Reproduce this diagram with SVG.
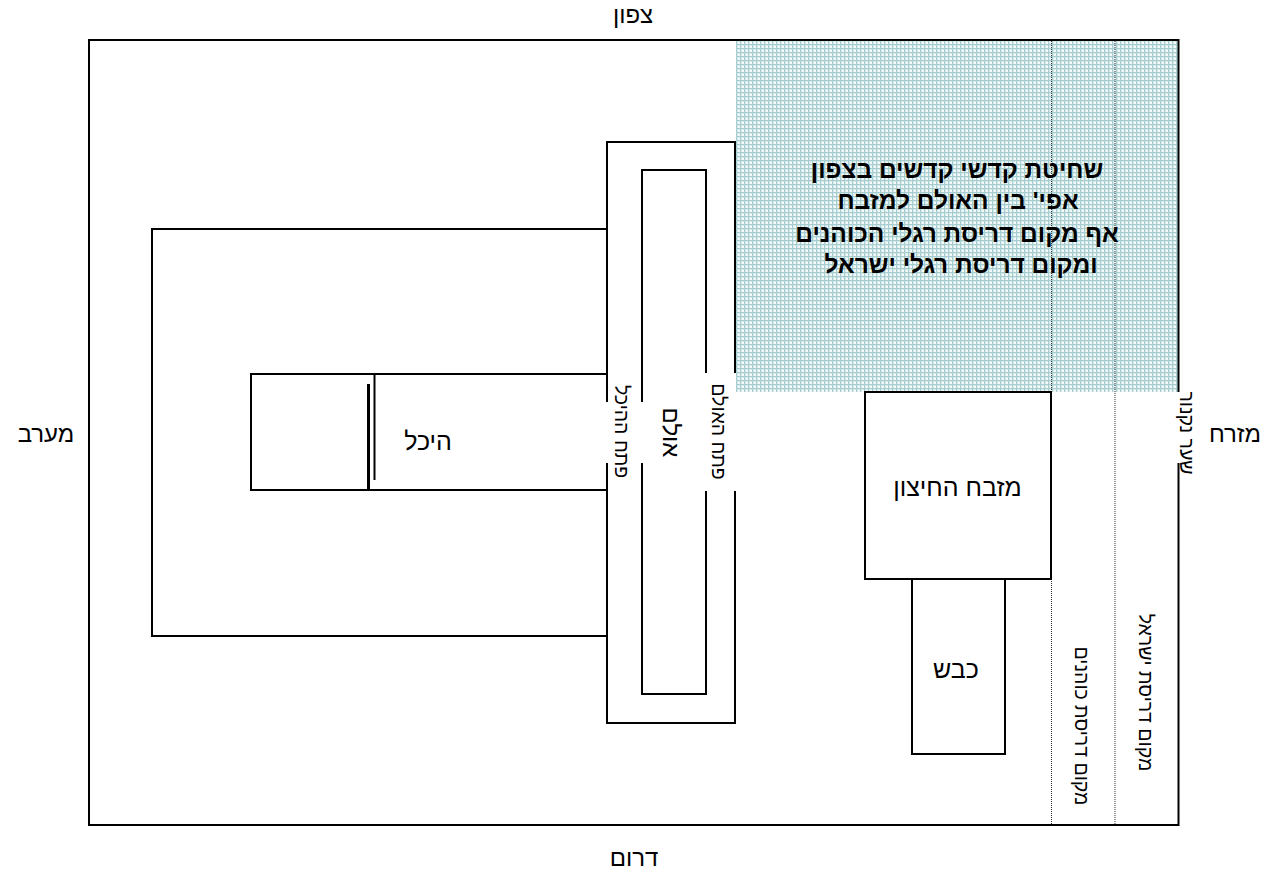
<svg xmlns="http://www.w3.org/2000/svg" width="1264" height="873" viewBox="0 0 1264 873">
<style>
text{font-family:"Liberation Sans",sans-serif;fill:#000;text-anchor:middle;direction:rtl}
.t{font-size:25px}.g{font-size:24px}.u{font-size:24px}.s{font-size:19.500px}.b{font-size:24.500px;font-weight:bold}
.l{fill:none;stroke:#000;stroke-width:2}
.d{fill:none;stroke:#333;stroke-width:1;stroke-dasharray:1 1}
</style>
<defs><pattern id="p" width="4" height="4" patternUnits="userSpaceOnUse"><rect width="4" height="4" fill="#d8eaea"/><path d="M0 .5H4M.5 0V4" stroke="#a6ced0" stroke-width="1" fill="none"/><rect x="2" y="2" width="2" height="2" fill="#f4f9f9"/></pattern></defs>
<rect width="1264" height="873" fill="#fff"/>
<g id="shaded"><rect x="736" y="41" width="443" height="351" fill="url(#p)"/></g>
<g id="connectors">
<path class="d" d="M1051.500 41V825M1115 41V825"/>
</g>
<g id="court"><path class="l" d="M1178.500 392V40H89V825H1178.500V463"/></g>
<g id="azara"><path class="l" d="M607 229H152V636H607"/></g>
<g id="heikhal"><path class="l" d="M607 374H251V490H607"/><path d="M374.500 373V480" stroke="#000" stroke-width="2"/><path d="M368.500 384V490" stroke="#000" stroke-width="3"/><text class="t" x="428" y="450">היכל</text></g>
<g id="ulam-outer"><path class="l" d="M607 402V142H735V373M735 491V723H607V463"/></g>
<g id="ulam-inner"><path class="l" d="M642 402V170H706V373M706 491V694H642V463"/></g>
<g id="labels-ulam">
<text class="u" transform="translate(663 432.500) rotate(90)">אולם</text>
<text class="s" transform="translate(615 431.500) rotate(90)">פתח ההיכל</text>
<text class="s" transform="translate(712 431.500) rotate(90)">פתח האולם</text>
</g>
<g id="altar"><rect class="l" x="865" y="392" width="186" height="187"/><text class="t" x="957.500" y="496">מזבח החיצון</text></g>
<g id="ramp"><rect class="l" x="912" y="579" width="93" height="175"/><text class="t" x="956" y="678">כבש</text></g>
<g id="east-labels">
<text class="s" transform="translate(1180 433) rotate(90)">שער נקנור</text>
<text class="s" transform="translate(1075 726) rotate(90)">מקום דריסת כוהנים</text>
<text class="s" transform="translate(1139 692.500) rotate(90)">מקום דריסת ישראל</text>
</g>
<g id="directions">
<text class="g" x="633" y="23">צפון</text>
<text class="g" x="634" y="866">דרום</text>
<text class="g" x="46" y="442">מערב</text>
<text class="g" x="1235" y="442">מזרח</text>
</g>
<g id="note">
<text class="b" x="957" y="178">שחיטת קדשי קדשים בצפון</text>
<text class="b" x="958" y="209">אפי' בין האולם למזבח</text>
<text class="b" x="957" y="242">אף מקום דריסת רגלי הכוהנים</text>
<text class="b" x="961" y="273">ומקום דריסת רגלי ישראל</text>
</g>
</svg>
